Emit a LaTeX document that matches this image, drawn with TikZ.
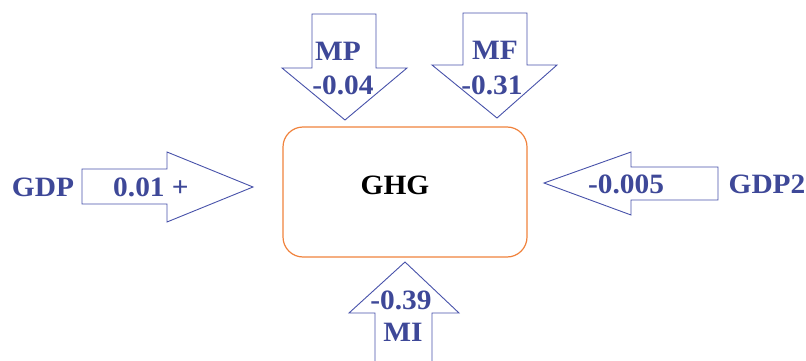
\documentclass[tikz,border=0pt]{standalone}
\usepackage{fontspec}
\setmainfont{Liberation Serif}[FakeStretch=1.05]
\definecolor{arrblue}{RGB}{72,82,170}
\definecolor{txtblue}{RGB}{62,72,152}
\definecolor{boxorange}{RGB}{240,130,60}
\begin{document}
\begin{tikzpicture}[x=1pt,y=-1pt,
  blockarrow/.style={draw=arrblue,line width=0.9pt,fill=white,line join=miter},
  lbl/.style={text=txtblue,font=\fontsize{28}{30}\selectfont\bfseries,inner sep=0pt,anchor=center},
  ghgbox/.style={draw=boxorange,line width=1.2pt,rounded corners=20pt}]
\useasboundingbox (0,0) rectangle (806,361);
% MP arrow (down)
\draw[blockarrow] (312,14) -- (376,14) -- (376,68) -- (407,68) -- (345,120) -- (282,68) -- (312,68) -- cycle;
\node[lbl] (mp) at (338,51) {MP};
\node[lbl] (mpv) at (343,85) {-0.04};
% MF arrow (down)
\draw[blockarrow] (463,13) -- (527,13) -- (527,65) -- (557,65) -- (497,118) -- (432,65) -- (463,65) -- cycle;
\node[lbl] (mf) at (495,50) {MF};
\node[lbl] (mfv) at (492,85) {-0.31};
% GHG box
\draw[ghgbox] (283,127) rectangle (527,257);
\node[inner sep=0pt,font=\fontsize{28}{30}\selectfont\bfseries] (ghg) at (395,185) {GHG};
% GDP arrow (right)
\draw[blockarrow] (82,169) -- (167,169) -- (167,152) -- (253,187) -- (167,222) -- (167,204) -- (82,204) -- cycle;
\node[lbl] (gdp) at (43,187) {GDP};
\node[lbl] (gdpv) at (151,187) {0.01 +};
% GDP2 arrow (left)
\draw[blockarrow] (718,167) -- (631,167) -- (631,152) -- (544,183) -- (631,215) -- (631,200) -- (718,200) -- cycle;
\node[lbl] (gdp2) at (767,184) {GDP2};
\node[lbl] (gdp2v) at (626,184) {-0.005};
% MI arrow (up)
\draw[blockarrow] (375,362) -- (375,313) -- (349,313) -- (405,262) -- (459,313) -- (432,313) -- (432,362);
\node[lbl] (miv) at (401,300) {-0.39};
\node[lbl] (mi) at (403,332) {MI};
\end{tikzpicture}
\end{document}
